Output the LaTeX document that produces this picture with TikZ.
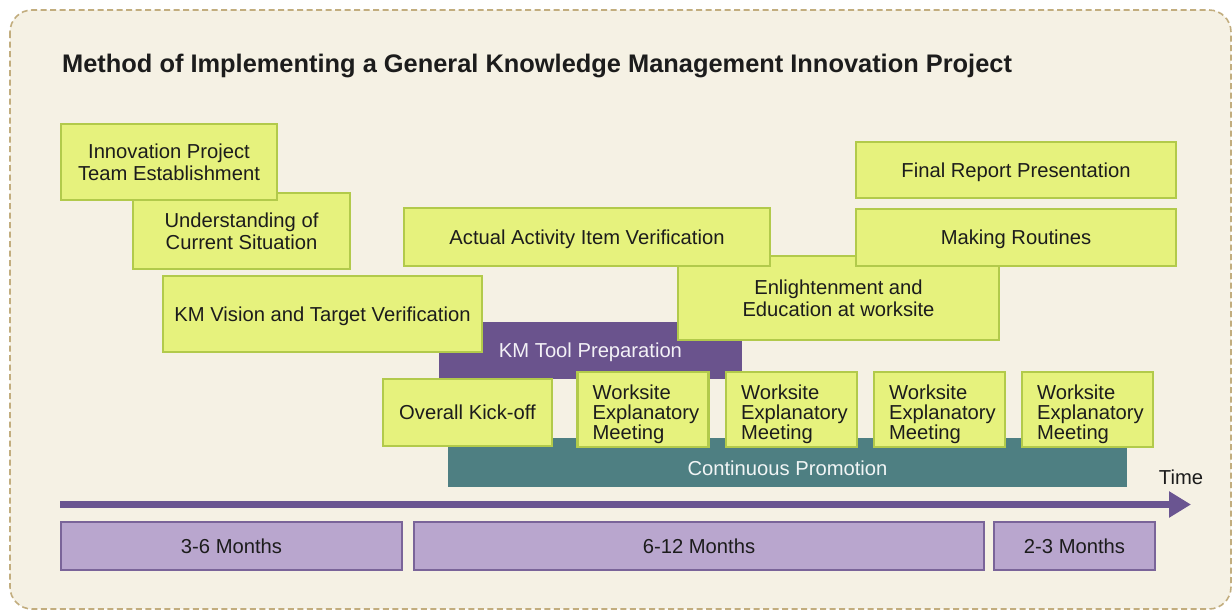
\documentclass[tikz,border=0pt]{standalone}
\usepackage{fontspec}
\setmainfont{Liberation Sans}
\usetikzlibrary{arrows.meta}

\definecolor{panelfill}{HTML}{F5F1E4}
\definecolor{paneledge}{HTML}{C2AD7E}
\definecolor{boxfill}{HTML}{E6F27D}
\definecolor{boxedge}{HTML}{B2CA4B}
\definecolor{ink}{HTML}{1C1C1C}
\definecolor{toolfill}{HTML}{6A538D}
\definecolor{promofill}{HTML}{4E7F82}
\definecolor{timeline}{HTML}{6A5591}
\definecolor{monthfill}{HTML}{B9A6CE}
\definecolor{monthedge}{HTML}{7A6499}

\newcommand\bxfont{\fontsize{20.2}{22}\selectfont}
\newcommand\wsfont{\fontsize{20.2}{20}\selectfont}
\newcommand\ttlfont{\fontsize{25.4}{28}\selectfont\bfseries}

\begin{document}
\begin{tikzpicture}[x=1pt,y=-1pt,
  panel/.style={draw=paneledge, fill=panelfill, line width=1.6pt,
    dash pattern=on 6pt off 3.5pt, rounded corners=22pt},
  gbox/.style={draw=boxedge, fill=boxfill, line width=2.2pt, inner sep=0pt,
    text=ink, font=\bxfont, align=center, text depth=0pt},
  wsbox/.style={draw=boxedge, fill=boxfill, line width=2.2pt, inner sep=0pt,
    minimum width=131, minimum height=75},
  wstext/.style={anchor=west, xshift=16pt, yshift=-5pt, inner sep=0pt,
    align=left, text=ink, font=\wsfont},
  toolbox/.style={fill=toolfill, inner sep=0pt, text=white!92!toolfill,
    font=\bxfont, text depth=0pt},
  promobox/.style={fill=promofill, inner sep=0pt},
  promotext/.style={text=white!92!promofill, font=\bxfont, inner sep=0pt},
  monthbox/.style={draw=monthedge, fill=monthfill, line width=2pt,
    inner sep=0pt, text=ink, font=\bxfont, minimum height=48},
  timearrow/.style={draw=timeline, line width=7pt,
    -{Triangle[length=22pt,width=25pt]}},
]
\useasboundingbox (0,0) rectangle (1232,611);

% panel behind everything
\path[panel] (10,10) rectangle (1231,609);

% title
\node[anchor=base west, inner sep=0pt, text=ink, font=\ttlfont] (title)
  at (62,72) {Method of Implementing a General Knowledge Management Innovation Project};

% long-running bars
\node[promobox, minimum width=679, minimum height=49] (promo) at (787.5,462.5) {};
\node[promotext] (promolabel) at (787.5,468) {Continuous Promotion};
\node[toolbox, minimum width=303, minimum height=57] (tool) at (590.5,350.5) {KM Tool Preparation};

% activity boxes
\node[gbox, minimum width=321, minimum height=84] (enlight) at (838.5,298)
  {Enlightenment and\\Education at worksite};
\node[gbox, minimum width=366, minimum height=58] (actual) at (587,237)
  {Actual Activity Item Verification};
\node[gbox, minimum width=320, minimum height=57] (routine) at (1016,237.5)
  {Making Routines};
\node[gbox, minimum width=320, minimum height=56] (final) at (1016,170)
  {Final Report Presentation};
\node[gbox, minimum width=319, minimum height=76] (vision) at (322.5,314)
  {KM Vision and Target Verification};
\node[gbox, minimum width=217, minimum height=76] (under) at (241.5,231)
  {Understanding of\\Current Situation};
\node[gbox, minimum width=216, minimum height=76] (innov) at (169,162)
  {Innovation Project\\Team Establishment};
\node[gbox, minimum width=169, minimum height=67] (kickoff) at (467.5,412.5)
  {Overall Kick-off};

% worksite meetings
\node[wsbox] (ws1) at (643,409.5) {};
\node[wsbox] (ws2) at (791.5,409.5) {};
\node[wsbox] (ws3) at (939.5,409.5) {};
\node[wsbox] (ws4) at (1087.5,409.5) {};
\node[wstext] (ws1text) at (ws1.west) {Worksite\\Explanatory\\Meeting};
\node[wstext] (ws2text) at (ws2.west) {Worksite\\Explanatory\\Meeting};
\node[wstext] (ws3text) at (ws3.west) {Worksite\\Explanatory\\Meeting};
\node[wstext] (ws4text) at (ws4.west) {Worksite\\Explanatory\\Meeting};

% time axis
\coordinate (tstart) at (60,504.5);
\coordinate (tend) at (1191,504.5);
\draw[timearrow] (tstart) -- (tend);
\node[text=ink, font=\bxfont, inner sep=0pt] (timelabel) at (1181,477) {Time};

% durations
\node[monthbox, minimum width=341] (m1) at (231.5,546) {3-6 Months};
\node[monthbox, minimum width=570] (m2) at (699,546) {6-12 Months};
\node[monthbox, minimum width=161] (m3) at (1074.5,546) {2-3 Months};
\end{tikzpicture}
\end{document}
